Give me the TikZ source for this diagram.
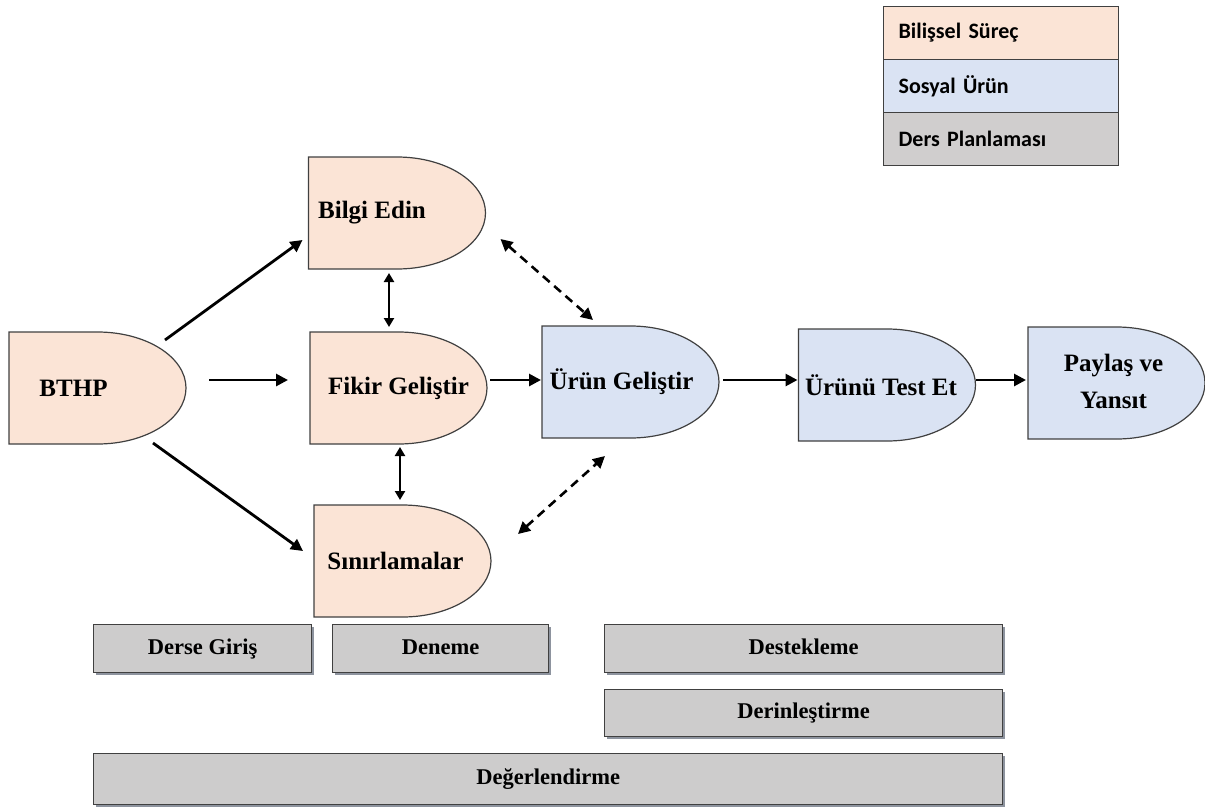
\documentclass[tikz,border=0pt]{standalone}
\usepackage{fontspec}
\setmainfont{Liberation Serif}
\newfontfamily\legfont{Carlito}
\usetikzlibrary{backgrounds,arrows.meta,shadows,calc}
\definecolor{peach}{HTML}{FBE4D6}
\definecolor{paleblue}{HTML}{DAE3F3}
\definecolor{bargray}{HTML}{CDCCCC}
\definecolor{leggray}{HTML}{D0CECE}
\definecolor{edge}{HTML}{404040}
\definecolor{shadowc}{HTML}{2F3B4F}
\begin{document}
\begin{tikzpicture}[x=1pt,y=-1pt,
  dbox/.style={minimum width=177pt, minimum height=112pt, inner sep=0pt, outer sep=0pt},
  ntext/.style={font=\bfseries\fontsize{25}{37}\selectfont, align=center, inner sep=0pt},
  dline/.style={draw=edge, line width=1.2pt},
  barbox/.style={draw=edge, line width=1.3pt, fill=bargray, anchor=north west,
    font=\bfseries\fontsize{22.5}{26}\selectfont, inner sep=0pt,
    text height=15pt, text depth=4pt,
    drop shadow={shadow xshift=2pt, shadow yshift=-2.5pt, fill=shadowc, opacity=0.55}},
  legrow/.style={draw=edge, line width=1.2pt, anchor=north west, minimum width=235pt,
    minimum height=53pt, inner sep=0pt, text width=205pt, align=left,
    font=\legfont\bfseries\fontsize{22}{26}\selectfont},
  arr/.style={line width=2.8pt, -{Triangle[length=12pt,width=12pt]}},
  darr/.style={line width=2.4pt, {Triangle[length=9pt,width=10pt]}-{Triangle[length=9pt,width=10pt]}},
  dasharr/.style={line width=2.6pt, dash pattern=on 9pt off 6pt,
    {Triangle[length=12pt,width=12pt]}-{Triangle[length=12pt,width=12pt]}}
]
\useasboundingbox (0,0) rectangle (1205,809);

% D-shaped nodes
\node[dbox] (bthp) at (97.5,388) {};
\node[dbox] (bilgi) at (397,213) {};
\node[dbox] (fikir) at (398.5,388) {};
\node[dbox] (sinir) at (402.5,561) {};
\node[dbox] (urun) at (630.5,382) {};
\node[dbox] (test) at (887,385) {};
\node[dbox] (paylas) at (1116.5,383) {};

\begin{scope}[on background layer]
\foreach \n/\c in {bthp/peach, bilgi/peach, fikir/peach, sinir/peach, urun/paleblue, test/paleblue, paylas/paleblue}{
  \draw[dline, fill=\c] (\n.south west) -- (\n.north west) -- (\n.north)
    arc[start angle=90, end angle=-90, x radius=88.5pt, y radius=56pt] -- cycle;
}
\end{scope}

% texts
\node[ntext] (bthpT) at ([xshift=-24pt]bthp.center) {BTHP};
\node[ntext] (bilgiT) at ([xshift=-25pt]bilgi.center) {Bilgi Edin};
\node[ntext] (fikirT) at (fikir.center) {Fikir Geliştir};
\node[ntext] (sinirT) at ([xshift=-7pt]sinir.center) {Sınırlamalar};
\node[ntext] (urunT) at ([xshift=-9pt]urun.center) {Ürün Geliştir};
\node[ntext] (testT) at ([xshift=-6pt]test.center) {Ürünü Test Et};
\node[ntext] (paylasT) at ([xshift=-3pt,yshift=2pt]paylas.center) {Paylaş ve\\Yansıt};

% arrows
\draw[arr] ([xshift=-21pt,yshift=48pt]bthp.east) -- ([xshift=-6pt,yshift=-27pt]bilgi.west);
\draw[arr] ([xshift=23pt,yshift=8pt]bthp.east) -- ([xshift=-22pt,yshift=8pt]fikir.west);
\draw[arr] ([xshift=-33pt,yshift=-55pt]bthp.east) -- ([xshift=-11pt,yshift=10pt]sinir.west);
\draw[darr] ([xshift=-8pt,yshift=-4pt]bilgi.south) -- ([xshift=-9.5pt,yshift=5pt]fikir.north);
\draw[darr] ([xshift=1.5pt,yshift=-3pt]fikir.south) -- ([xshift=-2.5pt,yshift=5pt]sinir.north);
\draw[dasharr] ([xshift=15pt,yshift=-26pt]bilgi.east) -- ([xshift=-37.5pt,yshift=6pt]urun.north);
\draw[dasharr] ([xshift=27pt,yshift=27pt]sinir.east) -- ([xshift=-25.5pt,yshift=-18pt]urun.south);
\draw[arr] ([xshift=3pt,yshift=8pt]fikir.east) -- ([xshift=-1pt,yshift=2pt]urun.west);
\draw[arr] ([xshift=4pt,yshift=2pt]urun.east) -- ([xshift=-1pt,yshift=5pt]test.west);
\draw[arr] ([xshift=0pt,yshift=5pt]test.east) -- ([xshift=-2pt,yshift=3pt]paylas.west);

% legend
\node[legrow, fill=peach] (leg1) at (883,6) {Bilişsel Süreç};
\node[legrow, fill=paleblue] (leg2) at (883,59) {Sosyal Ürün};
\node[legrow, fill=leggray] (leg3) at (883,112) {Ders Planlaması};

% bars
\node[barbox, minimum width=218pt, minimum height=48pt] (b1) at (93,624) {Derse Giriş};
\node[barbox, minimum width=216pt, minimum height=48pt] (b2) at (332,624) {Deneme};
\node[barbox, minimum width=398pt, minimum height=48pt] (b3) at (604,624) {Destekleme};
\node[barbox, minimum width=398pt, minimum height=47pt] (b4) at (604,689) {Derinleştirme};
\node[barbox, minimum width=909pt, minimum height=51pt] (b5) at (93,753) {Değerlendirme};
\end{tikzpicture}
\end{document}
